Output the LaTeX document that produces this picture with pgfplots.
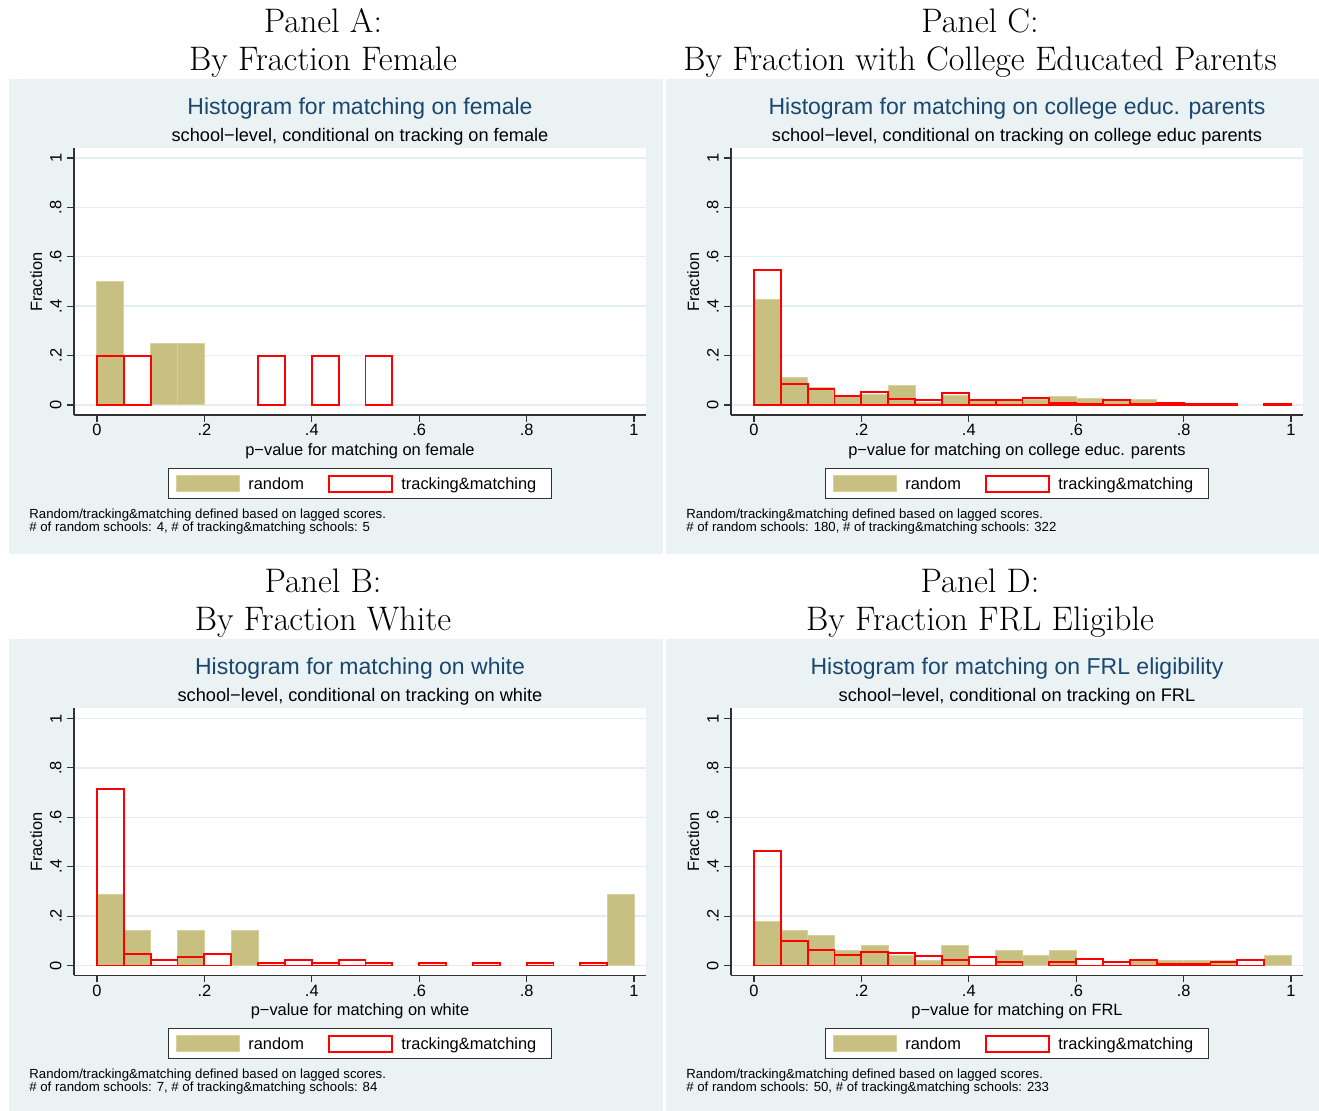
\documentclass[border=0pt]{standalone}
\usepackage{fontspec}
\usepackage{pgfplots}
\pgfplotsset{compat=1.18}
\newfontfamily\arial{Liberation Sans}
\definecolor{bgc}{RGB}{234,242,243}
\definecolor{gridc}{RGB}{228,238,240}
\definecolor{navy}{RGB}{26,71,111}
\definecolor{khaki}{RGB}{200,192,128}
\definecolor{khakie}{RGB}{214,208,160}
\definecolor{axc}{RGB}{50,50,50}
\pgfplotsset{
  stata/.style={
    scale only axis, width=286pt, height=133.5pt,
    xmin=-0.0428, xmax=1.0223, ymin=-0.0405, ymax=1.0405,
    axis x line*=bottom, axis y line*=left,
    axis line style={-, draw=axc, line width=0.55pt},
    axis background/.style={fill=white},
    xtick={0,0.2,0.4,0.6,0.8,1}, xticklabels={0,.2,.4,.6,.8,1},
    ytick={0,0.2,0.4,0.6,0.8,1}, yticklabels={0,.2,.4,.6,.8,1},
    tick align=outside, major tick length=3.5pt,
    tick style={draw=axc, line width=0.55pt},
    ymajorgrids, grid style={draw=gridc, line width=0.7pt},
    ticklabel style={font=\arial\fontsize{8.2}{9}\selectfont},
    xticklabel style={inner sep=1pt},
    yticklabel style={xshift=-2.5pt, rotate=90, anchor=south, inner sep=0pt},
    anchor=south west,
  },
  rnd/.style={ybar, bar width=0.05, bar shift=0pt, fill=khaki, draw=khakie, line width=0.5pt},
  trk/.style={ybar, bar width=0.05, bar shift=0pt, fill=none, draw=red, line width=0.95pt},
}
\newcommand{\axf}{\arial\fontsize{8.2}{9}\selectfont}
\newcommand{\paneltext}[6]{%
\begin{scope}[shift={(#1,#2)}]
\node[font=\arial\fontsize{11.5}{13}\selectfont, text=navy, anchor=base, inner sep=0pt] at (360,115) {#3};
\node[font=\arial\fontsize{9.1}{10}\selectfont, anchor=base, inner sep=0pt] at (360,142) {#4};
\node[font=\axf, anchor=base, inner sep=0pt] at (360,456) {#5};
\node[font=\axf, anchor=base, rotate=90, inner sep=0pt] at (42,282) {Fraction};
\draw[axc, line width=0.5pt, fill=white] (168,469) rectangle (551,499);
\draw[khakie, fill=khaki, line width=0.5pt] (176,476) rectangle (239,492);
\node[font=\axf, anchor=base west, inner sep=0pt] at (248,490) {random};
\draw[red, line width=0.6pt, fill=white] (329,476) rectangle (392,492);
\node[font=\axf, anchor=base west, inner sep=0pt] at (401,490) {tracking\&matching};
\node[font=\arial\fontsize{6.6}{7}\selectfont, anchor=base west, inner sep=0pt] at (29,519) {Random/tracking\&matching defined based on lagged scores.};
\node[font=\arial\fontsize{6.6}{7}\selectfont, anchor=base west, inner sep=0pt] at (29,532) {#6};
\end{scope}}
\begin{document}
\begin{tikzpicture}
\begin{scope}[x=0.5pt,y=-0.5pt]
\fill[white] (0,0) rectangle (1319,1111);
\fill[bgc] (9,79) rectangle (663,554);
\fill[bgc] (666,79) rectangle (1319,554);
\fill[bgc] (9,639) rectangle (663,1111);
\fill[bgc] (666,639) rectangle (1319,1111);
\begin{scope}[font=\fontsize{17}{20}\selectfont]
\node[anchor=base, inner sep=0pt] at (323,33) {Panel A:};
\node[anchor=base, inner sep=0pt] at (323,71) {By Fraction Female};
\node[anchor=base, inner sep=0pt] at (980,33) {Panel C:};
\node[anchor=base, inner sep=0pt] at (980,71) {By Fraction with College Educated Parents};
\node[anchor=base, inner sep=0pt] at (323,593) {Panel B:};
\node[anchor=base, inner sep=0pt] at (323,631) {By Fraction White};
\node[anchor=base, inner sep=0pt] at (980,593) {Panel D:};
\node[anchor=base, inner sep=0pt] at (980,631) {By Fraction FRL Eligible};
\end{scope}
\paneltext{0}{0}{Histogram for matching on female}{school−level, conditional on tracking on female}{p−value for matching on female}{\# of random schools: 4, \# of tracking\&matching schools: 5}
\paneltext{657}{0}{Histogram for matching on college educ. parents}{school−level, conditional on tracking on college educ parents}{p−value for matching on college educ. parents}{\# of random schools: 180, \# of tracking\&matching schools: 322}
\paneltext{0}{560}{Histogram for matching on white}{school−level, conditional on tracking on white}{p−value for matching on white}{\# of random schools: 7, \# of tracking\&matching schools: 84}
\paneltext{657}{560}{Histogram for matching on FRL eligibility}{school−level, conditional on tracking on FRL}{p−value for matching on FRL}{\# of random schools: 50, \# of tracking\&matching schools: 233}
\end{scope}

% Panel A: female
\begin{axis}[stata, at={(37pt,-207.5pt)}]
\addplot[rnd] coordinates {(0.025,0.5) (0.125,0.25) (0.175,0.25)};
\addplot[trk] coordinates {(0.025,0.2) (0.075,0.2) (0.325,0.2) (0.425,0.2) (0.525,0.2)};
\end{axis}

% Panel C: college educated parents
\begin{axis}[stata, at={(365.5pt,-207.5pt)}]
\addplot[rnd] coordinates {(0.025,0.428) (0.075,0.111) (0.125,0.072) (0.175,0.033) (0.225,0.044) (0.275,0.078) (0.325,0.011) (0.375,0.039) (0.425,0.017) (0.475,0.017) (0.525,0.022) (0.575,0.033) (0.625,0.028) (0.675,0.017) (0.725,0.022) (0.775,0.006) (0.825,0.006)};
\addplot[trk] coordinates {(0.025,0.547) (0.075,0.084) (0.125,0.065) (0.175,0.037) (0.225,0.053) (0.275,0.025) (0.325,0.022) (0.375,0.050) (0.425,0.019) (0.475,0.022) (0.525,0.028) (0.575,0.009) (0.625,0.006) (0.675,0.019) (0.725,0.003) (0.775,0.009) (0.825,0.006) (0.875,0.003) (0.975,0.006)};
\end{axis}

% Panel B: white
\begin{axis}[stata, at={(37pt,-487.75pt)}]
\addplot[rnd] coordinates {(0.025,0.2857) (0.075,0.1429) (0.175,0.1429) (0.275,0.1429) (0.975,0.2857)};
\addplot[trk] coordinates {(0.025,0.7143) (0.075,0.0476) (0.125,0.0238) (0.175,0.0357) (0.225,0.0476) (0.325,0.0119) (0.375,0.0238) (0.425,0.0119) (0.475,0.0238) (0.525,0.0119) (0.625,0.0119) (0.725,0.0119) (0.825,0.0119) (0.925,0.0119)};
\end{axis}

% Panel D: FRL
\begin{axis}[stata, at={(365.5pt,-487.75pt)}]
\addplot[rnd] coordinates {(0.025,0.18) (0.075,0.14) (0.125,0.12) (0.175,0.06) (0.225,0.08) (0.275,0.04) (0.325,0.02) (0.375,0.08) (0.475,0.06) (0.525,0.04) (0.575,0.06) (0.725,0.02) (0.775,0.02) (0.825,0.02) (0.875,0.02) (0.975,0.04)};
\addplot[trk] coordinates {(0.025,0.4635) (0.075,0.0987) (0.125,0.0644) (0.175,0.0429) (0.225,0.0558) (0.275,0.0515) (0.325,0.0386) (0.375,0.0215) (0.425,0.0343) (0.475,0.0129) (0.575,0.0129) (0.625,0.0258) (0.675,0.0129) (0.725,0.0215) (0.775,0.0043) (0.825,0.0043) (0.875,0.0129) (0.925,0.0215)};
\end{axis}
\end{tikzpicture}
\end{document}
